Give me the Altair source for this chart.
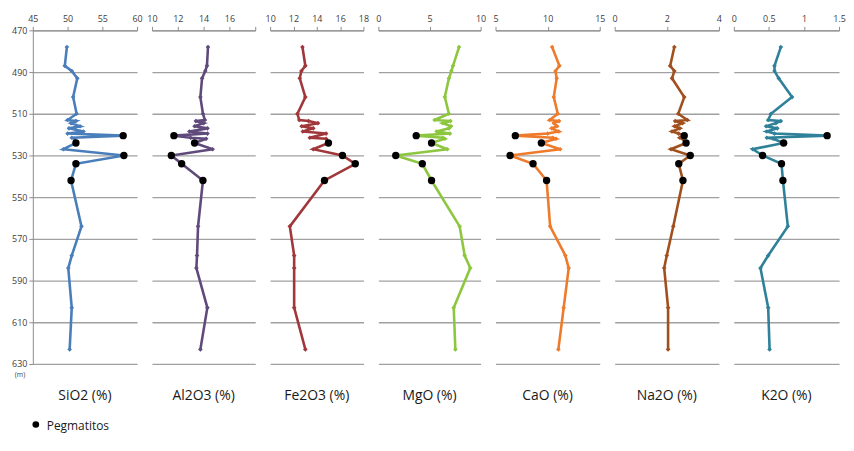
import altair as alt
import pandas as pd

# Depth of each sample (m)
depth = [478, 487, 489.5, 493, 502, 510,
         513, 513.5, 514.5, 516, 517, 518.5, 519.5,
         520.5, 521.5, 522, 524, 527, 530, 534, 542,
         564, 578, 584, 603, 623]
# 1 = pegmatito sample
peg = [0] * 13 + [1, 0, 0, 1, 0, 1, 1, 1] + [0] * 5

sio2 = [49.9, 49.6, 50.6, 51.4, 50.8, 51.3, 50.0, 51.2, 50.5, 51.8, 50.2, 52.3, 50.0,
        58.0, 50.6, 51.0, 51.2, 49.4, 58.1, 51.2, 50.5, 52.0, 50.6, 50.1, 50.6, 50.3]
al2o3 = [14.34, 14.26, 14.13, 13.88, 13.75, 13.95, 14.1, 13.4, 14.0, 13.3, 14.3, 12.9, 14.3,
         11.7, 13.0, 14.2, 13.3, 14.7, 11.5, 12.3, 13.95, 13.57, 13.49, 13.44, 14.29, 13.75]
fe2o3 = [12.77, 13.02, 12.68, 12.54, 13.02, 12.34, 12.5, 13.3, 14.1, 12.7, 13.7, 12.8, 14.8,
         None, 13.4, 14.8, 15.0, 13.7, 16.2, 17.3, 14.66, 11.69, 12.06, 12.06, 12.06, 13.02]
mgo = [7.89, 7.3, 7.14, 6.9, 6.5, 6.9, 5.5, 7.05, 6.3, 7.1, 6.9, 5.7, 7.0,
       3.7, 6.3, 6.5, 5.2, 6.75, 1.7, 4.3, 5.2, 7.95, 8.44, 8.99, 7.37, 7.53]
cao = [10.43, 11.13, 10.75, 10.87, 10.59, 10.97, 10.2, 11.1, 10.6, 10.9, 10.4, 11.06, 10.0,
       6.9, 10.5, 10.8, 9.4, 11.2, 6.4, 8.6, 9.9, 10.24, 11.7, 12.02, 11.54, 11.03]
na2o = [2.29, 2.13, 2.29, 2.2, 2.67, 2.44, 2.79, 2.32, 2.6, 2.3, 2.5, 2.2, 2.45,
        2.67, 2.5, 2.6, 2.74, 2.16, 2.9, 2.46, 2.62, 2.25, 2.0, 1.9, 2.05, 2.05]
k2o = [0.67, 0.58, 0.58, 0.64, 0.83, 0.53, 0.49, 0.67, 0.6, 0.46, 0.62, 0.47, 0.58,
       1.33, 0.47, 0.56, 0.71, 0.27, 0.41, 0.68, 0.70, 0.77, 0.49, 0.38, 0.49, 0.51]

titles = ["SiO2 (%)", "Al2O3 (%)", "Fe2O3 (%)", "MgO (%)", "CaO (%)", "Na2O (%)", "K2O (%)"]
series = [sio2, al2o3, fe2o3, mgo, cao, na2o, k2o]
domains = [[45, 60], [10, 18], [10, 18], [0, 10], [5, 15], [0, 4], [0, 1.5]]
xticks = [[45, 50, 55, 60], [10, 12, 14, 16, 18], [10, 12, 14, 16, 18], [0, 5, 10],
          [5, 10, 15], [0, 2, 4], [0, 0.5, 1, 1.5]]
colors = ["#4a7ebb", "#604a7b", "#a0373a", "#8dc63f", "#ee7b2c", "#a0501e", "#2e8198"]
widths = [105, 104, 94, 103, 105, 105, 106]
yticks = [470, 490, 510, 530, 550, 570, 590, 610, 630]

H = 336
FONT = "Open Sans"


def panel(i):
    w = widths[i]
    first = i == 0
    df = pd.DataFrame({"depth": depth, "value": series[i], "peg": peg}).dropna()
    base = alt.Chart(df)
    yaxis = alt.Axis(values=yticks, grid=True, gridColor="#a0a0a0", gridWidth=1.3,
                     labels=first, ticks=first, domain=first, title=None,
                     domainColor="#8c8c8c", tickColor="#8c8c8c", tickSize=4,
                     labelFontSize=9, labelColor="#404040", labelPadding=2,
                     labelFont=FONT)
    y = alt.Y("depth:Q", scale=alt.Scale(domain=[470, 630], reverse=True, nice=False, zero=False),
              axis=yaxis)
    if i == 1:
        label_expr = "datum.value == 18 ? '' : datum.label"
    else:
        label_expr = "datum.label"
    xaxis = alt.Axis(orient="top", values=xticks[i], format="~r", grid=False, title=None,
                     domainColor="#8c8c8c", tickColor="#8c8c8c", tickSize=4,
                     labelFontSize=9, labelColor="#404040", labelPadding=3,
                     labelFont=FONT, labelExpr=label_expr)
    x = alt.X("value:Q", scale=alt.Scale(domain=domains[i], nice=False, zero=False), axis=xaxis)
    line = base.mark_line(
        color=colors[i], strokeWidth=2.6,
        point=alt.OverlayMarkDef(shape="diamond", size=22, color=colors[i], filled=True),
    ).encode(x=x, y=y, order="depth:Q")
    dots = base.transform_filter("datum.peg == 1").mark_circle(
        color="black", size=55, opacity=1).encode(x=x, y=y)
    ttl = alt.Chart(pd.DataFrame({"t": [titles[i]]})).mark_text(
        font=FONT, fontSize=14, color="#1a1a1a", align="center", baseline="middle"
    ).encode(x=alt.value(w / 2), y=alt.value(H + 32), text="t:N")
    layers = [line, dots, ttl]
    if first:
        m = alt.Chart(pd.DataFrame({"t": ["(m)"]})).mark_text(
            font=FONT, fontSize=7, color="#404040", align="center", baseline="middle"
        ).encode(x=alt.value(-13), y=alt.value(H + 11), text="t:N")
        leg_dot = alt.Chart(pd.DataFrame({"t": ["Pegmatitos"]})).mark_circle(
            color="black", size=45, opacity=1).encode(x=alt.value(3), y=alt.value(H + 61))
        leg_txt = alt.Chart(pd.DataFrame({"t": ["Pegmatitos"]})).mark_text(
            font=FONT, fontSize=12, color="#1a1a1a", align="left", baseline="middle"
        ).encode(x=alt.value(14), y=alt.value(H + 62), text="t:N")
        layers += [m, leg_dot, leg_txt]
    return alt.layer(*layers).properties(width=w, height=H)


chart = alt.hconcat(*[panel(i) for i in range(7)], spacing=15, bounds="flush").properties(
    padding={"left": 3, "top": 5, "right": 0, "bottom": 0}
).configure_view(stroke=None).configure_axisX(labelOverlap=False, labelFlush=False)

chart.save("out.html", embed_options={"renderer": "svg", "actions": False})
